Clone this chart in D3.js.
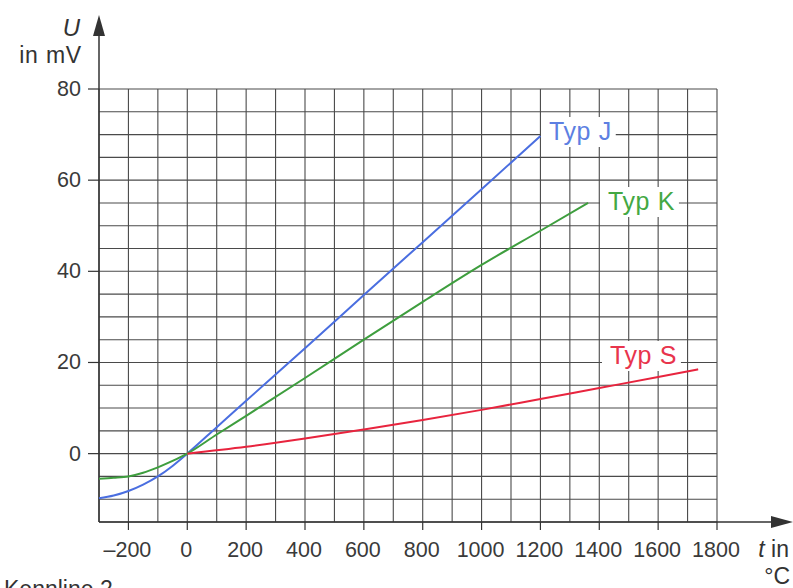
<!DOCTYPE html>
<html>
<head>
<meta charset="utf-8">
<script src="https://cdn.jsdelivr.net/npm/d3@7"></script>
<style>
  body { margin: 0; background: #fff; }
  svg { display: block; font-family: "Liberation Sans", Arial, sans-serif; }
</style>
</head>
<body>
<div id="chart"></div>
<script>
// temperature in °C, voltage in mV
const typJ_t = [-300, -250, -200, -150, -100, -50, 0, 100, 200, 400, 600, 800, 1000, 1200];
const typJ_u = [-9.8, -9.2, -8.2, -6.8, -5.0, -2.7, 0, 5.8, 11.6, 23.1, 34.8, 46.4, 58.0, 69.7];

const typK_t = [-300, -250, -200, -150, -100, -50, 0, 100, 200, 400, 600, 800, 1000, 1200, 1362];
const typK_u = [-5.5, -5.3, -5.0, -4.2, -3.0, -1.6, 0, 4.2, 8.3, 16.6, 25.0, 33.3, 41.4, 48.9, 55.0];

const typS_t = [0, 200, 400, 600, 800, 1000, 1200, 1400, 1600, 1736];
const typS_u = [0, 1.5, 3.3, 5.3, 7.4, 9.6, 12.0, 14.4, 16.8, 18.5];

const xTicks = [-200, 0, 200, 400, 600, 800, 1000, 1200, 1400, 1600, 1800];
const yTicks = [0, 20, 40, 60, 80];

const series = [
  {name: "Typ J", t: typJ_t, u: typJ_u, color: "#4a6ee0", text: "#5d7fe2", lx: 549, ly: 140},
  {name: "Typ K", t: typK_t, u: typK_u, color: "#3e9e3e", text: "#43a843", lx: 608, ly: 210},
  {name: "Typ S", t: typS_t, u: typS_u, color: "#e8243e", text: "#e8344c", lx: 610, ly: 364}
];

const width = 793, height = 588;
const svg = d3.select("#chart").append("svg")
    .attr("width", width)
    .attr("height", height);

const x = d3.scaleLinear().domain([-300, 1800]).range([99, 717]);
const y = d3.scaleLinear().domain([-15, 80]).range([522, 89]);

// grid
const grid = svg.append("g").attr("stroke", "#4a4a4a").attr("stroke-width", 1.1);
d3.range(-300, 1801, 100).forEach(v => {
    grid.append("line")
        .attr("x1", x(v)).attr("x2", x(v))
        .attr("y1", y(-15)).attr("y2", y(80));
});
d3.range(-15, 81, 5).forEach(v => {
    grid.append("line")
        .attr("x1", x(-300)).attr("x2", x(1800))
        .attr("y1", y(v)).attr("y2", y(v));
});

// axes with arrows
const axisColor = "#333";
svg.append("line")
    .attr("x1", x(-300)).attr("x2", 780)
    .attr("y1", y(-15)).attr("y2", y(-15))
    .attr("stroke", axisColor).attr("stroke-width", 1.5);
svg.append("path")
    .attr("d", `M793,${y(-15)} L771,${y(-15) - 6} L771,${y(-15) + 6} Z`)
    .attr("fill", axisColor);
svg.append("line")
    .attr("x1", x(-300)).attr("x2", x(-300))
    .attr("y1", y(-15)).attr("y2", 30)
    .attr("stroke", axisColor).attr("stroke-width", 1.5);
svg.append("path")
    .attr("d", `M${x(-300)},15 L${x(-300) - 6},36 L${x(-300) + 6},36 Z`)
    .attr("fill", axisColor);

// ticks
svg.append("g").selectAll("line")
    .data(xTicks)
    .join("line")
    .attr("x1", d => x(d)).attr("x2", d => x(d))
    .attr("y1", y(-15)).attr("y2", y(-15) + 8)
    .attr("stroke", axisColor).attr("stroke-width", 1.2);
svg.append("g").selectAll("text")
    .data(xTicks)
    .join("text")
    .attr("x", d => x(d) - 1)
    .attr("y", 557)
    .attr("text-anchor", "middle")
    .attr("font-size", 21.5)
    .attr("fill", "#3a3a3a")
    .text(d => d < 0 ? "\u2013" + Math.abs(d) : d);

svg.append("g").selectAll("line")
    .data(yTicks)
    .join("line")
    .attr("x1", x(-300) - 11).attr("x2", x(-300))
    .attr("y1", d => y(d)).attr("y2", d => y(d))
    .attr("stroke", axisColor).attr("stroke-width", 1.2);
svg.append("g").selectAll("text")
    .data(yTicks)
    .join("text")
    .attr("x", 81)
    .attr("y", d => y(d) + 7)
    .attr("text-anchor", "end")
    .attr("font-size", 21.5)
    .attr("fill", "#3a3a3a")
    .text(d => d);

// axis titles
svg.append("text").attr("x", 80).attr("y", 36).attr("text-anchor", "end")
    .attr("font-size", 24).attr("font-style", "italic").attr("fill", "#333").text("U");
svg.append("text").attr("x", 82).attr("y", 63).attr("text-anchor", "end")
    .attr("font-size", 23).attr("letter-spacing", 0.8).attr("fill", "#333").text("in mV");
const tl = svg.append("text").attr("x", 789).attr("y", 557).attr("text-anchor", "end")
    .attr("font-size", 23).attr("fill", "#333");
tl.append("tspan").attr("font-style", "italic").text("t");
tl.append("tspan").text(" in");
svg.append("text").attr("x", 790).attr("y", 584).attr("text-anchor", "end")
    .attr("font-size", 23).attr("fill", "#333").text("°C");
svg.append("text").attr("x", 4).attr("y", 597)
    .attr("font-size", 23).attr("fill", "#333").text("Kennline 2");

// curves
const line = d3.line()
    .x(d => x(d[0]))
    .y(d => y(d[1]))
    .curve(d3.curveMonotoneX);

series.forEach(s => {
    svg.append("path")
        .datum(d3.zip(s.t, s.u))
        .attr("d", line)
        .attr("fill", "none")
        .attr("stroke", s.color)
        .attr("stroke-width", 2);
});

// labels with white boxes
series.forEach(s => {
    const g = svg.append("g");
    const txt = g.append("text")
        .attr("x", s.lx).attr("y", s.ly)
        .attr("font-size", 25)
        .attr("letter-spacing", 0.6)
        .attr("fill", s.text)
        .text(s.name);
    const bb = txt.node().getBBox();
    g.insert("rect", "text")
        .attr("x", bb.x - 8).attr("y", bb.y)
        .attr("width", bb.width + 12).attr("height", bb.height + 2)
        .attr("fill", "#fff");
});
</script>
</body>
</html>
